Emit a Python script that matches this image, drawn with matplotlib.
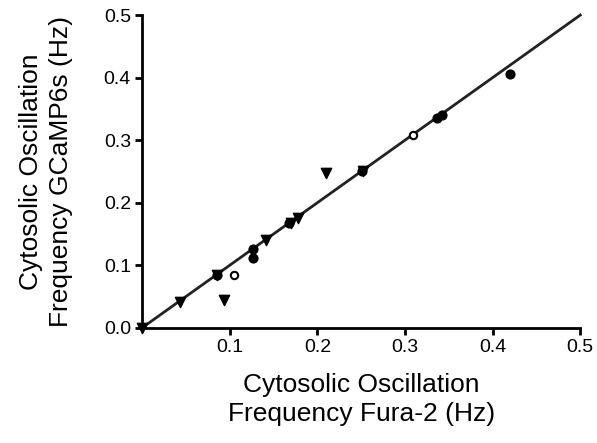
import matplotlib
matplotlib.use("Agg")
import matplotlib.pyplot as plt

plt.rcParams['font.family'] = ['Liberation Sans', 'DejaVu Sans']

# ===== データ =====
circ_x = [0.085, 0.126, 0.127, 0.168, 0.251, 0.336, 0.342, 0.420]
circ_y = [0.085, 0.126, 0.112, 0.167, 0.251, 0.336, 0.341, 0.406]

open_x = [0.105, 0.309]
open_y = [0.085, 0.309]

tri_x = [0.000, 0.043, 0.093, 0.085, 0.141, 0.170, 0.178, 0.210, 0.252]
tri_y = [0.000, 0.042, 0.045, 0.084, 0.140, 0.168, 0.176, 0.248, 0.251]

line_x = [0.0, 0.5]
line_y = [0.0, 0.5]

xticks = [0.1, 0.2, 0.3, 0.4, 0.5]
yticks = [0.0, 0.1, 0.2, 0.3, 0.4, 0.5]

fig = plt.figure(figsize=(5.97, 4.43), dpi=100)
ax = fig.add_axes([0.238, 0.26, 0.734, 0.706])

ax.plot(line_x, line_y, color='#222222', lw=2, zorder=2, clip_on=False)
ax.scatter(circ_x, circ_y, s=40, color='black', zorder=3, clip_on=False)
ax.scatter(open_x, open_y, s=28, facecolor='white', edgecolor='black', linewidth=1.5, zorder=3)
ax.scatter(tri_x, tri_y, s=55, marker='v', color='black', zorder=3, clip_on=False)

ax.set_xlim(0, 0.5)
ax.set_ylim(0, 0.5)
ax.set_xticks(xticks)
ax.set_yticks(yticks)
ax.set_xticklabels([f"{v:.1f}" for v in xticks])
ax.set_yticklabels([f"{v:.1f}" for v in yticks])

for side in ('top', 'right'):
    ax.spines[side].set_visible(False)
for side in ('left', 'bottom'):
    ax.spines[side].set_linewidth(2)
ax.tick_params(width=2, length=5, labelsize=14, direction='out', pad=3)

ax.set_xlabel('Cytosolic Oscillation\nFrequency Fura-2 (Hz)', fontsize=19,
              linespacing=1.3, labelpad=12)
ax.set_ylabel('Cytosolic Oscillation\nFrequency GCaMP6s (Hz)', fontsize=19,
              linespacing=1.35, labelpad=22)

fig.savefig('out.png', dpi=100)
